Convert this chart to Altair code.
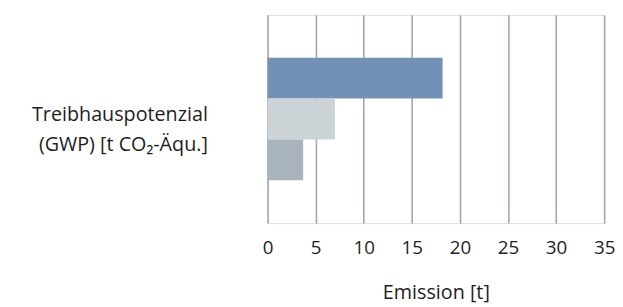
import altair as alt
import pandas as pd

categories = ["Treibhauspotenzial|(GWP) [t CO₂-Äqu.]"]
series = ["Reihe 1", "Reihe 2", "Reihe 3"]
values = [18.2, 7.0, 3.7]
colors = ["#7391b6", "#cbd3d7", "#a8b3bb"]
x_ticks = [0, 5, 10, 15, 20, 25, 30, 35]

df = pd.DataFrame({
    "cat": [categories[0]] * len(series),
    "serie": series,
    "wert": values,
})

FONT = "Open Sans"
TXT = "#1e1e1e"

chart = alt.Chart(df).mark_bar(cornerRadius=0).encode(
    x=alt.X(
        "wert:Q",
        scale=alt.Scale(domain=[0, 35], nice=False),
        axis=alt.Axis(
            values=x_ticks,
            title="Emission [t]",
            grid=True,
            gridColor="#a0a8ad",
            gridWidth=1.6,
            domain=False,
            ticks=False,
            tickSize=0,
            labelFlush=False,
            labelFontSize=19,
            labelPadding=16,
            labelColor=TXT,
            labelFont=FONT,
            titleFont=FONT,
            titleFontSize=20,
            titleFontWeight="normal",
            titleColor=TXT,
            titlePadding=25,
        ),
    ),
    y=alt.Y(
        "cat:N",
        scale=alt.Scale(paddingInner=0, paddingOuter=0.351),
        axis=alt.Axis(
            title=None,
            domain=False,
            ticks=False,
            tickSize=0,
            grid=False,
            labelExpr="split(datum.label, '|')",
            labelFontSize=20,
            labelLineHeight=30,
            labelFont=FONT,
            labelColor=TXT,
            labelAlign="right",
            labelBaseline="middle",
            labelPadding=61,
            labelOffset=-4,
            labelLimit=400,
            minExtent=260,
            maxExtent=260,
        ),
    ),
    yOffset=alt.YOffset(
        "serie:N",
        sort=series,
        scale=alt.Scale(paddingInner=0, paddingOuter=0),
    ),
    color=alt.Color(
        "serie:N",
        scale=alt.Scale(domain=series, range=colors),
        legend=None,
    ),
).properties(
    width=341,
    height=211,
    padding={"left": 3, "top": 5, "right": 0, "bottom": 0},
).configure_view(
    stroke=None
).configure(
    background="white"
)

chart.save("out.html", embed_options={"renderer": "svg", "actions": False})
